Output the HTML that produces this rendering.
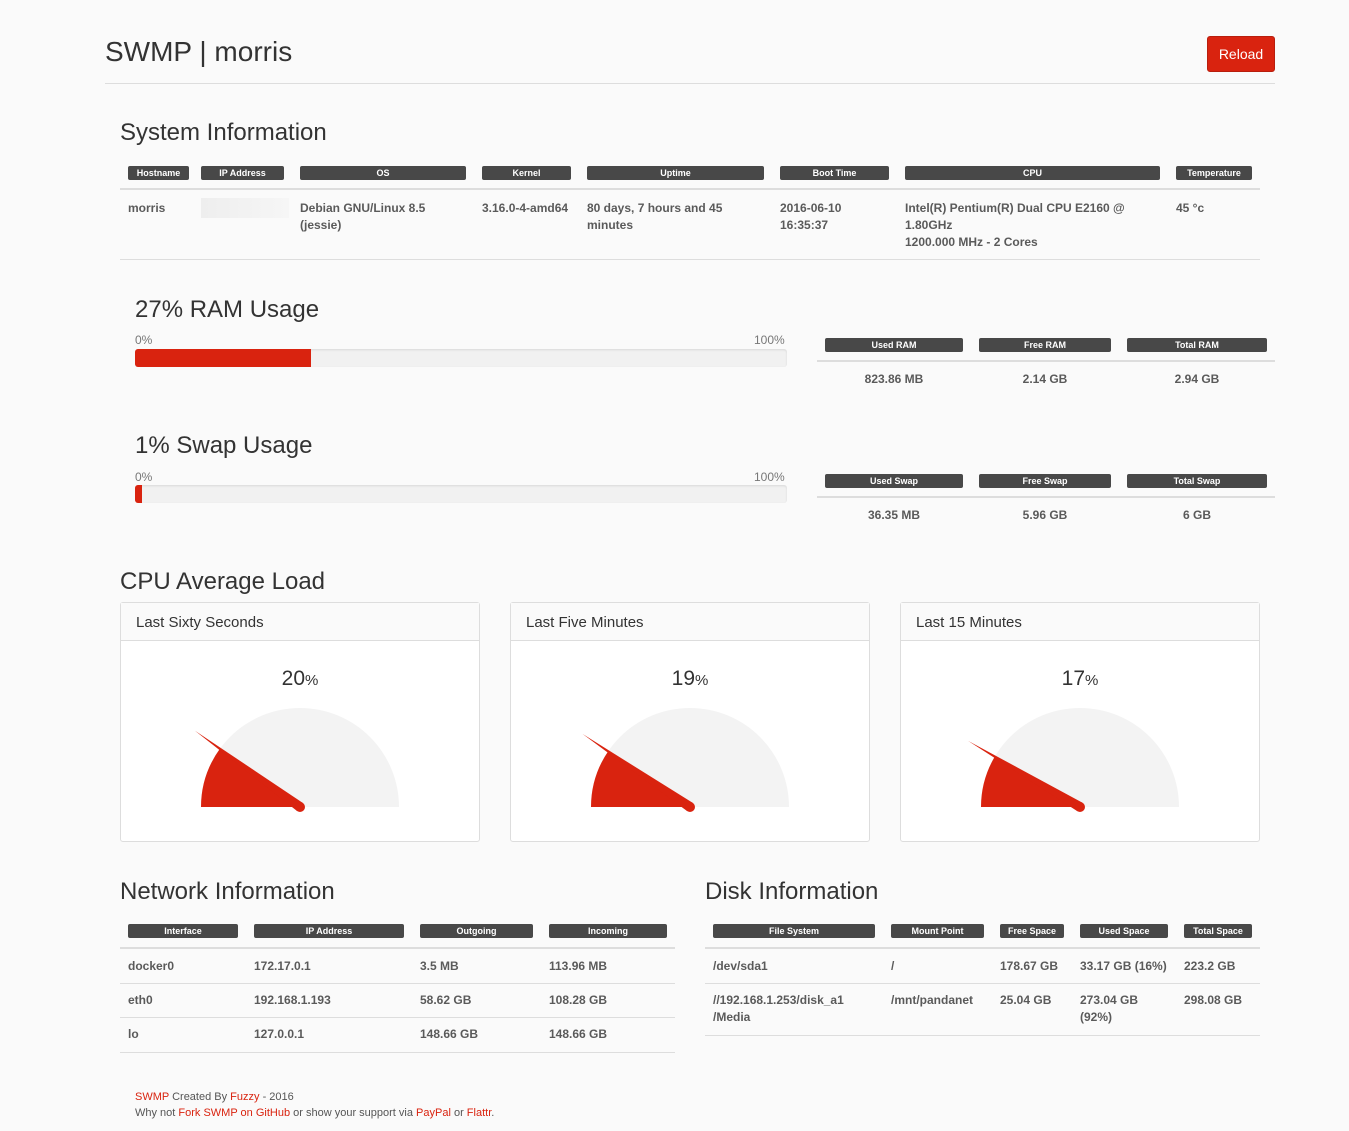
<!DOCTYPE html>
<html><head><meta charset="utf-8">
<style>
body{margin:0;width:1349px;height:1131px;background:#fafafa;font-family:"Liberation Sans",sans-serif;color:#555;position:relative;overflow:hidden}
.a{position:absolute}
.h{position:absolute;font-size:24px;color:#333;line-height:1}
.lb{position:absolute;height:14px;background:#484848;color:#fff;font-size:9px;font-weight:bold;text-align:center;line-height:14px;border-radius:2px}
.t{position:absolute;font-size:12px;font-weight:bold;color:#5a5a5a;line-height:17px}
.ln{position:absolute;height:1px;background:#ddd}
.ln2{position:absolute;height:2px;background:#ddd}
.pct{position:absolute;font-size:12px;color:#777}
.bar{position:absolute;height:18px;background:#f1f1f1;border-radius:3px;box-shadow:inset 0 1px 2px rgba(0,0,0,.1);overflow:hidden}
.bar div{height:100%;background:#d9230f}
.panel{position:absolute;top:602px;width:358px;height:238px;border:1px solid #ddd;border-radius:3px;background:#fff}
.panel .ph{height:37px;border-bottom:1px solid #ddd;background:#fafafa;font-size:15px;color:#333;line-height:40px;padding-left:15px}
.panel .pv{position:absolute;top:64px;width:100%;text-align:center;font-size:21px;color:#333}
.panel .pv small{font-size:15px}
.f{position:absolute;font-size:11px;color:#555;left:135px}
.f span{color:#d9230f}
</style></head><body>
<div class="a" style="left:105px;top:36px;font-size:28px;color:#333">SWMP | morris</div>
<div class="a" style="left:1207px;top:36px;width:68px;height:36px;background:#d9230f;border:1px solid #b81e0d;box-sizing:border-box;border-radius:3px;color:#fff;font-size:14px;text-align:center;line-height:34px">Reload</div>
<div class="ln" style="left:105px;top:83px;width:1170px"></div>

<div class="h" style="left:120px;top:121px">System Information</div>
<div class="lb" style="left:128px;top:166px;width:61px">Hostname</div>
<div class="lb" style="left:201px;top:166px;width:83px">IP Address</div>
<div class="lb" style="left:300px;top:166px;width:166px">OS</div>
<div class="lb" style="left:482px;top:166px;width:89px">Kernel</div>
<div class="lb" style="left:587px;top:166px;width:177px">Uptime</div>
<div class="lb" style="left:780px;top:166px;width:109px">Boot Time</div>
<div class="lb" style="left:905px;top:166px;width:255px">CPU</div>
<div class="lb" style="left:1176px;top:166px;width:76px">Temperature</div>
<div class="ln2" style="left:120px;top:188px;width:1140px"></div>
<div class="t" style="left:128px;top:200px">morris</div>
<div class="a" style="left:201px;top:198px;width:88px;height:20px;background:linear-gradient(90deg,#eee,#f6f6f6)"></div>
<div class="t" style="left:300px;top:200px">Debian GNU/Linux 8.5<br>(jessie)</div>
<div class="t" style="left:482px;top:200px">3.16.0-4-amd64</div>
<div class="t" style="left:587px;top:200px">80 days, 7 hours and 45<br>minutes</div>
<div class="t" style="left:780px;top:200px">2016-06-10<br>16:35:37</div>
<div class="t" style="left:905px;top:200px">Intel(R) Pentium(R) Dual CPU E2160 @<br>1.80GHz<br>1200.000 MHz - 2 Cores</div>
<div class="t" style="left:1176px;top:200px">45 °c</div>
<div class="ln" style="left:120px;top:259px;width:1140px"></div>

<div class="h" style="left:135px;top:298px">27% RAM Usage</div>
<div class="pct" style="left:135px;top:333px">0%</div>
<div class="pct" style="left:754px;top:333px">100%</div>
<div class="bar" style="left:135px;top:349px;width:652px"><div style="width:27%"></div></div>
<div class="lb" style="left:825px;top:338px;width:138px">Used RAM</div>
<div class="lb" style="left:979px;top:338px;width:132px">Free RAM</div>
<div class="lb" style="left:1127px;top:338px;width:140px">Total RAM</div>
<div class="ln2" style="left:817px;top:360px;width:458px"></div>
<div class="t" style="left:825px;top:371px;width:138px;text-align:center">823.86 MB</div>
<div class="t" style="left:979px;top:371px;width:132px;text-align:center">2.14 GB</div>
<div class="t" style="left:1127px;top:371px;width:140px;text-align:center">2.94 GB</div>

<div class="h" style="left:135px;top:434px">1% Swap Usage</div>
<div class="pct" style="left:135px;top:470px">0%</div>
<div class="pct" style="left:754px;top:470px">100%</div>
<div class="bar" style="left:135px;top:485px;width:652px"><div style="width:1%"></div></div>
<div class="lb" style="left:825px;top:474px;width:138px">Used Swap</div>
<div class="lb" style="left:979px;top:474px;width:132px">Free Swap</div>
<div class="lb" style="left:1127px;top:474px;width:140px">Total Swap</div>
<div class="ln2" style="left:817px;top:496px;width:458px"></div>
<div class="t" style="left:825px;top:507px;width:138px;text-align:center">36.35 MB</div>
<div class="t" style="left:979px;top:507px;width:132px;text-align:center">5.96 GB</div>
<div class="t" style="left:1127px;top:507px;width:140px;text-align:center">6 GB</div>

<div class="h" style="left:120px;top:570px">CPU Average Load</div>
<div class="panel" style="left:120px"><div class="ph">Last Sixty Seconds</div><div class="pv"></div><svg width="358" height="199" style="position:absolute;left:0;top:38px"></svg></div>
<div class="panel" style="left:510px"><div class="ph">Last Five Minutes</div><div class="pv"></div><svg width="358" height="199" style="position:absolute;left:0;top:38px"></svg></div>
<div class="panel" style="left:900px"><div class="ph">Last 15 Minutes</div><div class="pv"></div><svg width="358" height="199" style="position:absolute;left:0;top:38px"></svg></div>

<div class="h" style="left:120px;top:880px">Network Information</div>
<div class="lb" style="left:128px;top:924px;width:110px">Interface</div>
<div class="lb" style="left:254px;top:924px;width:150px">IP Address</div>
<div class="lb" style="left:420px;top:924px;width:113px">Outgoing</div>
<div class="lb" style="left:549px;top:924px;width:118px">Incoming</div>
<div class="ln2" style="left:120px;top:947px;width:555px"></div>
<div class="t" style="left:128px;top:958px">docker0</div>
<div class="t" style="left:254px;top:958px">172.17.0.1</div>
<div class="t" style="left:420px;top:958px">3.5 MB</div>
<div class="t" style="left:549px;top:958px">113.96 MB</div>
<div class="ln" style="left:120px;top:983px;width:555px"></div>
<div class="t" style="left:128px;top:992px">eth0</div>
<div class="t" style="left:254px;top:992px">192.168.1.193</div>
<div class="t" style="left:420px;top:992px">58.62 GB</div>
<div class="t" style="left:549px;top:992px">108.28 GB</div>
<div class="ln" style="left:120px;top:1017px;width:555px"></div>
<div class="t" style="left:128px;top:1026px">lo</div>
<div class="t" style="left:254px;top:1026px">127.0.0.1</div>
<div class="t" style="left:420px;top:1026px">148.66 GB</div>
<div class="t" style="left:549px;top:1026px">148.66 GB</div>
<div class="ln" style="left:120px;top:1052px;width:555px"></div>

<div class="h" style="left:705px;top:880px">Disk Information</div>
<div class="lb" style="left:713px;top:924px;width:162px">File System</div>
<div class="lb" style="left:891px;top:924px;width:93px">Mount Point</div>
<div class="lb" style="left:1000px;top:924px;width:64px">Free Space</div>
<div class="lb" style="left:1080px;top:924px;width:88px">Used Space</div>
<div class="lb" style="left:1184px;top:924px;width:68px">Total Space</div>
<div class="ln2" style="left:705px;top:947px;width:555px"></div>
<div class="t" style="left:713px;top:958px">/dev/sda1</div>
<div class="t" style="left:891px;top:958px">/</div>
<div class="t" style="left:1000px;top:958px">178.67 GB</div>
<div class="t" style="left:1080px;top:958px">33.17 GB (16%)</div>
<div class="t" style="left:1184px;top:958px">223.2 GB</div>
<div class="ln" style="left:705px;top:983px;width:555px"></div>
<div class="t" style="left:713px;top:992px">//192.168.1.253/disk_a1<br>/Media</div>
<div class="t" style="left:891px;top:992px">/mnt/pandanet</div>
<div class="t" style="left:1000px;top:992px">25.04 GB</div>
<div class="t" style="left:1080px;top:992px">273.04 GB<br>(92%)</div>
<div class="t" style="left:1184px;top:992px">298.08 GB</div>
<div class="ln" style="left:705px;top:1035px;width:555px"></div>

<div class="f" style="top:1091px"><span>SWMP</span> Created By <span>Fuzzy</span> - 2016</div>
<div class="f" style="top:1107px">Why not <span>Fork SWMP on GitHub</span> or show your support via <span>PayPal</span> or <span>Flattr</span>.</div>

<script>
const gaugeLabels = ["Last Sixty Seconds","Last Five Minutes","Last 15 Minutes"];
const gaugeValues = [20, 19, 17];
const gaugeMax = 100;
const NS = "http://www.w3.org/2000/svg";
document.querySelectorAll('.panel').forEach((p, i) => {
  const v = gaugeValues[i];
  p.querySelector('.pv').innerHTML = v + '<small>%</small>';
  const svg = p.querySelector('svg');
  const cx = 179, cy = 166, r = 99, nl = 130;
  const ang = Math.PI * (v / gaugeMax);
  const bg = document.createElementNS(NS, 'path');
  bg.setAttribute('d', `M${cx - r} ${cy} A${r} ${r} 0 0 1 ${cx + r} ${cy} Z`);
  bg.setAttribute('fill', '#f3f3f3');
  
  
  svg.appendChild(bg);
  const ex = cx - r * Math.cos(ang), ey = cy - r * Math.sin(ang);
  const fg = document.createElementNS(NS, 'path');
  fg.setAttribute('d', `M${cx} ${cy} L${cx - r} ${cy} A${r} ${r} 0 0 1 ${ex} ${ey} Z`);
  fg.setAttribute('fill', '#d9230f');
  
  
  svg.appendChild(fg);
  const nx = cx - nl * Math.cos(ang), ny = cy - nl * Math.sin(ang);
  const px = Math.sin(ang) * 5, py = -Math.cos(ang) * 5;
  const nd = document.createElementNS(NS, 'path');
  nd.setAttribute('d', `M${nx} ${ny} L${cx + px} ${cy + py} L${cx - px} ${cy - py} Z`);
  nd.setAttribute('fill', '#d9230f');
  
  
  svg.appendChild(nd);
  const hub = document.createElementNS(NS, 'circle');
  hub.setAttribute('cx', cx); hub.setAttribute('cy', cy); hub.setAttribute('r', 5);
  hub.setAttribute('fill', '#d9230f');
  
  
  svg.appendChild(hub);
});
</script>
</body></html>
